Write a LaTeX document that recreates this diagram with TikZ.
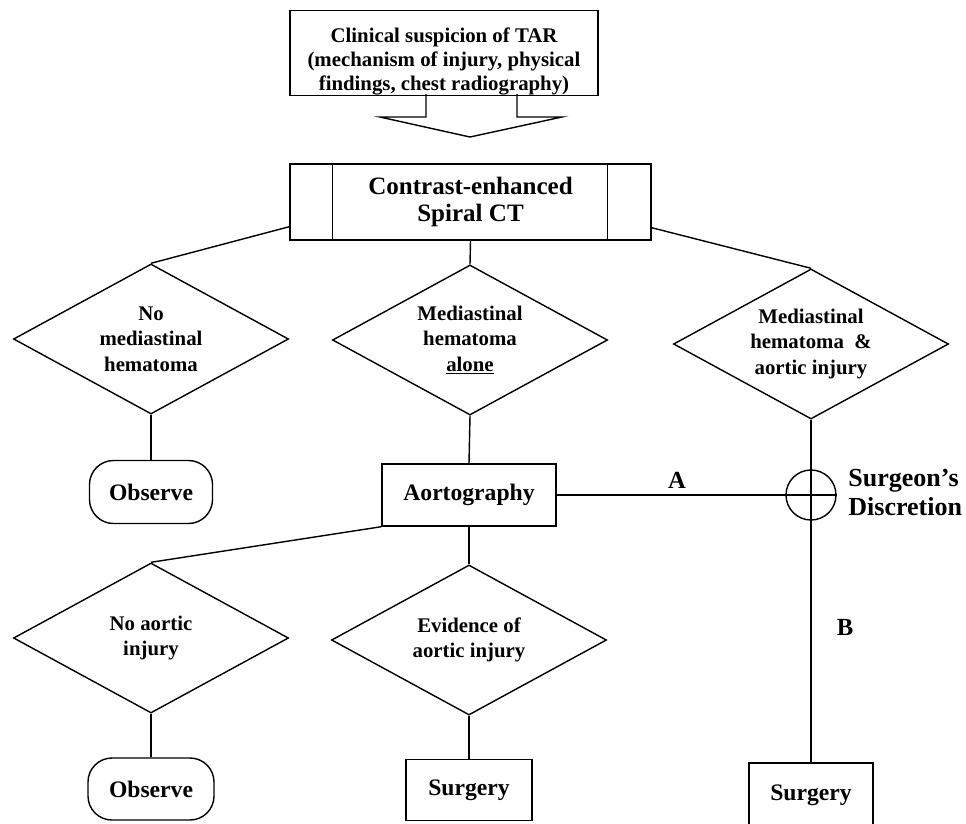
\documentclass[tikz,border=0pt]{standalone}
\usepackage{fontspec}
\setmainfont{Liberation Serif}
\usetikzlibrary{shapes.geometric,calc,positioning}

\begin{document}
\begin{tikzpicture}[x=0.025cm, y=-0.025cm, line width=1pt,
  decision/.style={draw, diamond, aspect=1.85, inner sep=0pt, minimum width=6.875cm, minimum height=3.75cm, align=center, font=\fontsize{14.8}{18}\selectfont\bfseries},
  box/.style={draw, rectangle, align=center, font=\fontsize{16.8}{20}\selectfont\bfseries},
  endbox/.style={box, rounded corners=0.6cm},
  tag/.style={font=\fontsize{17.5}{20}\selectfont\bfseries}]

\useasboundingbox (0,0) rectangle (966,823);

% Start
\node[box, minimum width=7.7cm, minimum height=2.05cm, inner ysep=0pt, font=\fontsize{14.8}{17}\selectfont\bfseries] (clin) at (444,53)
  {\rule{0pt}{0.8cm}Clinical suspicion of TAR\\(mechanism of injury, physical\\findings, chest radiography)};
\draw (426,94) -- (426,117) -- (380,117) -- (470,137) -- (562,117) -- (517,117) -- (517,94);

% CT
\node[box, minimum width=9.025cm, minimum height=1.9cm, font=\fontsize{17.8}{19.2}\selectfont\bfseries] (ct) at (470.5,202)
  {Contrast-enhanced\\Spiral CT};
\draw ($(ct.north west)+(43,0)$) -- ($(ct.south west)+(43,0)$);
\draw ($(ct.north east)+(-44,0)$) -- ($(ct.south east)+(-44,0)$);

% Findings
\node[decision] (nomed) at (151,339) {No\\mediastinal\\hematoma};
\node[decision] (medalone) at (470,340) {Mediastinal\\hematoma\\\underline{alone}};
\node[decision] (medaort) at (811,344) {Mediastinal\\hematoma\ \ \&\\aortic injury};

% Second level
\node[endbox, minimum width=3.075cm, minimum height=1.575cm] (obs1) at (151,492) {Observe};
\node[box, minimum width=4.35cm, minimum height=1.55cm] (aorto) at (469,495) {Aortography};
\node[draw, circle, minimum size=1.25cm, inner sep=0pt] (sd) at (811,495) {};
\node[tag, anchor=west, align=left, font=\fontsize{18.5}{20.6}\selectfont\bfseries] (sdlab) at (843,492) {Surgeon's\\Discretion};

% Aortography results
\node[decision] (noaort) at (151,638) {No aortic\\injury};
\node[decision] (evid) at (469,640) {Evidence of\\aortic injury};

% Outcomes
\node[endbox, minimum width=3.15cm, minimum height=1.55cm] (obs2) at (151,789) {Observe};
\node[box, minimum width=3.15cm, minimum height=1.525cm] (surg1) at (469,790) {Surgery};
\node[box, minimum width=3.1cm, minimum height=1.6cm] (surg2) at (811,795) {Surgery};

% Lines
\draw ($(ct.south west)+(0,-14)$) -- (nomed.north);
\draw (ct.south) -- (medalone.north);
\draw ($(ct.south east)+(0,-13)$) -- (medaort.north);
\draw (nomed.south) -- (obs1.north);
\draw (medalone.south) -- (aorto.north);
\draw (medaort.south) -- (surg2.north);
\draw (aorto.east) -- (sd.east);
\draw (aorto.south west) -- (noaort.north);
\draw (aorto.south) -- (evid.north);
\draw (noaort.south) -- (obs2.north);
\draw (evid.south) -- (surg1.north);

% Paths A and B
\node[tag] (la) at (677,480) {A};
\node[tag] (lb) at (845,627) {B};

\end{tikzpicture}
\end{document}
